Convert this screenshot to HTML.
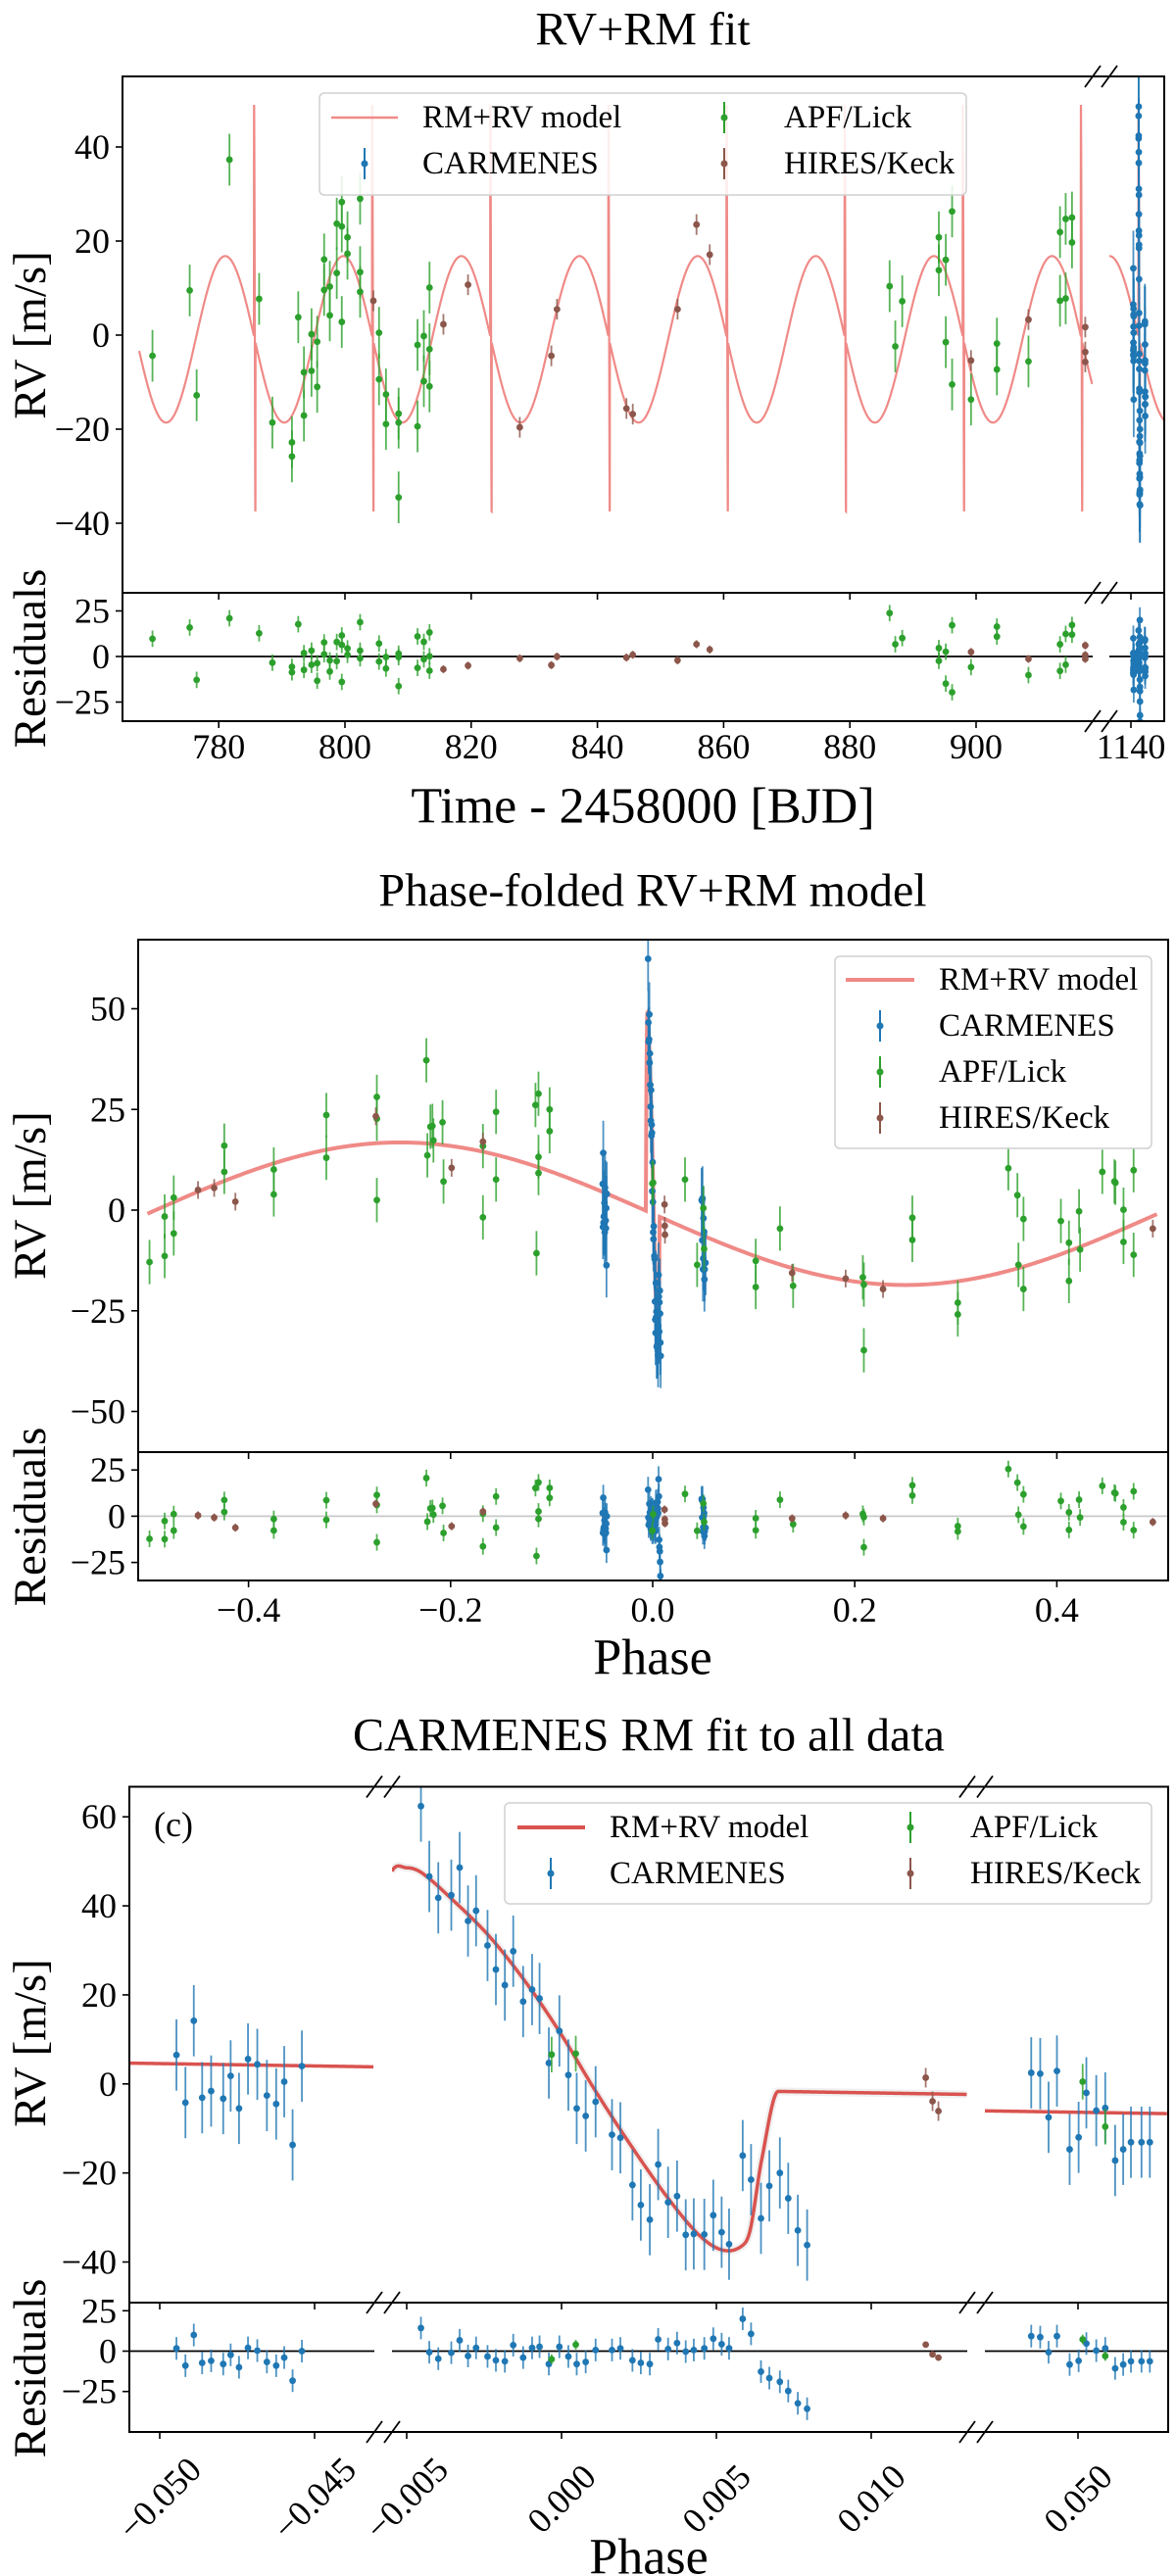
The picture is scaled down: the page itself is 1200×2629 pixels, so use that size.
<!DOCTYPE html>
<html><head><meta charset="utf-8"><title>RV+RM fit</title>
<style>
html,body{margin:0;padding:0;background:#fff;}
svg{display:block;font-family:"Liberation Serif","DejaVu Serif",serif;}
svg text{font-family:"Liberation Serif","DejaVu Serif",serif;}
</style></head>
<body>
<svg id="fig" xmlns="http://www.w3.org/2000/svg" width="1200" height="2629" viewBox="0 0 1200 2629">
<rect x="0" y="0" width="1200" height="2629" fill="#fff"/>
<defs id="defs"></defs>
<g id="p1"></g>
<g id="p2"></g>
<g id="p3"></g>

<g>
<rect x="326" y="95" width="660" height="104" rx="5" fill="#fff" fill-opacity="0.85" stroke="#d0d0d0" stroke-width="1.5"/>
<line x1="338" y1="120" x2="406" y2="120" stroke="#ef8a87" stroke-width="2.5"/>
<text x="431" y="120" font-size="33" dominant-baseline="central">RM+RV model</text>
<line x1="372" y1="151" x2="372" y2="183" stroke="#1f77b4" stroke-width="2"/>
<circle cx="372" cy="167" r="3.5" fill="#1f77b4"/>
<text x="431" y="167" font-size="33" dominant-baseline="central">CARMENES</text>
<line x1="739" y1="104" x2="739" y2="136" stroke="#2ca02c" stroke-width="2"/>
<circle cx="739" cy="120" r="3.5" fill="#2ca02c"/>
<text x="800" y="120" font-size="33" dominant-baseline="central">APF/Lick</text>
<line x1="739" y1="151" x2="739" y2="183" stroke="#8c564b" stroke-width="2"/>
<circle cx="739" cy="167" r="3.5" fill="#8c564b"/>
<text x="800" y="167" font-size="33" dominant-baseline="central">HIRES/Keck</text>
</g>

<g>
<rect x="852" y="976" width="323" height="196" rx="5" fill="#fff" fill-opacity="0.85" stroke="#d0d0d0" stroke-width="1.5"/>
<line x1="863" y1="1000" x2="933" y2="1000" stroke="#ef8a87" stroke-width="4"/>
<text x="958" y="1000" font-size="33" dominant-baseline="central">RM+RV model</text>
<line x1="898" y1="1031" x2="898" y2="1063" stroke="#1f77b4" stroke-width="2"/>
<circle cx="898" cy="1047" r="3.5" fill="#1f77b4"/>
<text x="958" y="1047" font-size="33" dominant-baseline="central">CARMENES</text>
<line x1="898" y1="1078" x2="898" y2="1110" stroke="#2ca02c" stroke-width="2"/>
<circle cx="898" cy="1094" r="3.5" fill="#2ca02c"/>
<text x="958" y="1094" font-size="33" dominant-baseline="central">APF/Lick</text>
<line x1="898" y1="1125" x2="898" y2="1157" stroke="#8c564b" stroke-width="2"/>
<circle cx="898" cy="1141" r="3.5" fill="#8c564b"/>
<text x="958" y="1141" font-size="33" dominant-baseline="central">HIRES/Keck</text>
</g>

<g>
<rect x="515" y="1840" width="660" height="103" rx="5" fill="#fff" fill-opacity="0.85" stroke="#d0d0d0" stroke-width="1.5"/>
<line x1="528" y1="1865" x2="597" y2="1865" stroke="#d9534f" stroke-width="4"/>
<text x="622" y="1865" font-size="33" dominant-baseline="central">RM+RV model</text>
<line x1="562" y1="1896" x2="562" y2="1928" stroke="#1f77b4" stroke-width="2"/>
<circle cx="562" cy="1912" r="3.5" fill="#1f77b4"/>
<text x="622" y="1912" font-size="33" dominant-baseline="central">CARMENES</text>
<line x1="929" y1="1849" x2="929" y2="1881" stroke="#2ca02c" stroke-width="2"/>
<circle cx="929" cy="1865" r="3.5" fill="#2ca02c"/>
<text x="990" y="1865" font-size="33" dominant-baseline="central">APF/Lick</text>
<line x1="929" y1="1896" x2="929" y2="1928" stroke="#8c564b" stroke-width="2"/>
<circle cx="929" cy="1912" r="3.5" fill="#8c564b"/>
<text x="990" y="1912" font-size="33" dominant-baseline="central">HIRES/Keck</text>
</g>
</svg>

<script>
// ---------- Panel 1 data (time series) ----------
const apfTime = [769.5,775.4,776.5,781.7,786.4,788.5,791.6,791.6,792.6,793.5,793.5,794.7,794.7,795.6,795.6,796.7,796.7,797.6,797.6,798.7,798.7,799.5,799.5,799.5,800.4,800.4,802.4,802.4,802.4,805.4,805.4,806.5,806.5,808.5,808.5,808.5,811.5,811.5,812.5,812.5,813.4,813.4,813.4,886.3,887.2,888.3,894.1,894.1,895.2,895.2,896.2,896.2,899.2,903.3,903.3,908.3,913.3,913.3,914.2,914.2,915.2,915.2];
const apfRV = [-4.4,9.5,-12.8,37.3,7.7,-18.6,-22.8,-25.8,3.8,-7.9,-17.1,0.2,-7.6,-1.4,-11,16.1,9.6,10.3,4.2,23.7,13.2,28.3,23.1,2.8,20.8,17.3,29,13.4,9.2,0.5,-9.4,-12.6,-18.9,-16.7,-18.6,-34.5,-2.1,-19.4,-0.2,-9.8,10.1,-3,-10.9,10.4,-2.4,7.2,20.8,13.8,16,-1.5,26.3,-10.5,-13.7,-1.8,-7.3,-5.6,21.9,7.3,24.7,7.8,25,19.7];
const hiresTime = [804.5,815.6,819.5,827.7,832.7,833.6,844.6,845.6,852.7,855.7,857.8,899.2,908.3,917.3,917.3,917.3];
const hiresRV = [7.3,2.3,10.7,-19.6,-4.4,5.5,-15.6,-16.8,5.5,23.5,17.1,-5.4,3.3,1.7,-3.6,-5.7];
const transitT0 = 785.7;
const orbitPeriod = 18.716;
const carmTransitTime = 1141.3;
const modelStartTime = 767.4;

// ---------- Model parameters ----------
const modelK = 17.7;
const modelOffset = -0.9;
const rmPhase = [-0.0069,-0.0062,-0.0055,-0.0050,-0.00451,-0.00354,-0.00232,-0.0011,0,0.0011,0.00232,0.00354,0.00451,0.00524,0.00585,0.0061,0.00646,0.0070];
const rmVal = [0,30,47.7,48.9,47.8,42.0,33.7,23.1,11.9,-0.6,-13.5,-25.3,-33,-35.9,-34.7,-31,-15.5,0];

// ---------- CARMENES (panel 3, also used in panels 1-2) ----------
const carmPhase = [-0.04946,-0.04917,-0.0489,-0.04863,-0.04834,-0.04795,-0.04771,-0.04744,-0.04715,-0.04685,-0.04654,-0.04624,-0.04598,-0.04571,-0.04541,
 -0.00454,-0.00427,-0.00398,-0.00356,-0.00329,-0.00302,-0.00276,-0.00239,-0.00212,-0.00183,-0.00156,-0.00124,-0.00095,-0.00071,-0.00041,-0.00007,0.00022,0.00049,0.00078,0.0011,0.00163,0.0019,0.00229,0.00256,0.00285,0.00312,0.00344,0.00373,0.00401,0.00427,0.00461,0.0049,0.00517,0.00541,0.00585,0.00612,0.00644,0.00671,0.00705,0.00732,0.00763,0.00793,
 0.04849,0.04878,0.04905,0.04932,0.04973,0.05002,0.05027,0.05059,0.05088,0.0512,0.05146,0.05171,0.05205,0.05232];
const carmRV = [6.5,-4.2,14.2,-3.1,-1.6,-3.3,1.8,-5.5,5.6,4.4,-2.6,-4.5,0.5,-13.7,4.0,
 62.4,46.6,41.8,42.4,48.6,36.6,38.9,31.1,25.7,22.2,29.8,18.5,21.2,19.2,4.7,11.9,2.0,-5.5,-7.2,-4.0,-11.4,-12.1,-22.7,-27.2,-30.5,-18.1,-26.6,-25.2,-33.9,-33.7,-33.8,-29.5,-33.3,-36.0,-16.1,-21.5,-30.2,-22.9,-20.0,-25.7,-32.9,-36.2,
 2.5,2.3,-7.5,2.9,-14.7,-12,-2.0,-6.0,-5.4,-17.2,-14.7,-13.1,-13.1,-13.1];
const carmRes = [1.7,-9,10,-7.3,-6,-8,-2.3,-10,2,0.3,-6.7,-9,-4,-18.3,0,
 14.3,-0.7,-4.7,-1,6.7,-3,2,-3.3,-5.7,-6.3,3.7,-4,2,2.7,-8,2.7,-3.3,-8,-6.7,0.7,0.7,1.7,-5.7,-7.3,-8,7.3,1.3,5,-0.3,0.7,1.7,7.7,4.3,1.7,20,10.7,-12.7,-16.7,-19,-24.7,-32.3,-35.7,
 9.3,8.7,-0.7,9.3,-8.3,-6,4.7,0.3,1.7,-10.7,-8.3,-6.3,-6.3,-6.3];
const p3apfPhase = [-0.00032,0.00046,0.05015,0.05088];
const p3apfRV = [6.6,6.8,0.5,-9.6];
const p3apfRes = [-5,4,7.3,-3];
const p3hiresPhase = [0.01176,0.01198,0.01217];
const p3hiresRV = [1.4,-3.9,-6.1];
const p3hiresRes = [4,-2,-4];

// ---------- Panel 2 data (phase-folded) ----------
const p2apfPhase = [-0.498,-0.483,-0.483,-0.474,-0.474,-0.424,-0.424,-0.375,-0.375,-0.323,-0.323,-0.273,-0.273,-0.273,-0.224,-0.223,-0.22,-0.218,-0.217,-0.208,-0.207,-0.168,-0.168,-0.155,-0.155,-0.116,-0.113,-0.113,-0.113,-0.115,-0.102,-0.102,0.032,0.044,0.102,0.102,0.126,0.139,0.208,0.209,0.209,0.257,0.257,0.302,0.302,0.352,0.361,0.362,0.367,0.367,0.404,0.412,0.412,0.422,0.423,0.445,0.457,0.458,0.466,0.466,0.476,0.476];
const p2apfRV = [-12.9,-1.6,-11.4,3.1,-5.8,16,9.5,10.1,3.9,23.6,13,28.1,22.7,2.5,37.2,13.6,20.7,20.9,17.3,21.8,7.1,15.9,-1.8,24.4,7.6,26.1,28.9,13.2,9.2,-10.7,25,19.6,7.6,-13.6,-12.6,-19.1,-4.6,-18.8,-16.7,-18.5,-34.8,-1.9,-7.4,-23,-25.9,10.4,3.7,-13.6,-2.2,-19.6,-2.7,-8.1,-17.6,-0.3,-9.8,9.5,7.1,6.8,0.1,-7.9,9.9,-11.1];
const p2hiresPhase = [-0.45,-0.434,-0.413,-0.274,-0.199,-0.168,0.138,0.191,0.228,0.495];
const p2hiresRV = [5,5.5,2.1,23.3,10.5,17,-15.6,-17,-19.6,-4.6];

// ---------- error sizes ----------
const errAPF = 5.5, errHIRES = 2.2, errCARM = 8, errResAPF = 4.5, errResCARM = 7;

// ---------- Tick labels ----------
const p1YTicks = [-40,-20,0,20,40];
const p1ResTicks = [-25,0,25];
const p1XTicks = [780,800,820,840,860,880,900];
const p1XTicks2 = [1140];
const p2YTicks = [-50,-25,0,25,50];
const p2ResTicks = [-25,0,25];
const p2XTicks = [-0.4,-0.2,0.0,0.2,0.4];
const p3YTicks = [-40,-20,0,20,40,60];
const p3ResTicks = [-25,0,25];
const p3XTicks1 = [-0.050,-0.045];
const p3XTicks2 = [-0.005,0.000,0.005,0.010];
const p3XTicks3 = [0.050];

// ================= helpers =================
const NS = 'http://www.w3.org/2000/svg';
const defs = document.getElementById('defs');
function mk(tag, attrs, parent, name) {
  const e = document.createElementNS(NS, tag);
  for (const k in attrs) e.setAttribute(k, attrs[k]);
  
  
  parent.appendChild(e);
  return e;
}
function txt(str, x, y, size, parent, name, anchor, rot) {
  const t = mk('text', {x: x, y: y, 'font-size': size, 'text-anchor': anchor || 'middle', 'dominant-baseline': 'central', fill: '#000', 'font-family': '"Liberation Serif", serif'}, parent, name);
  if (rot) t.setAttribute('transform', 'rotate(' + rot + ' ' + x + ' ' + y + ')');
  t.textContent = str;
  return t;
}
function lin(d0, d1, p0, p1) { return v => p0 + (v - d0) * (p1 - p0) / (d1 - d0); }
function fmtNum(v, dec) {
  const s = Math.abs(v).toFixed(dec);
  return (v < 0 && parseFloat(s) !== 0 ? '\u2212' : '') + s;
}
let clipId = 0;
function clipGroup(parent, x0, y0, x1, y1, name) {
  const id = 'clip' + (clipId++);
  const cp = mk('clipPath', {id: id}, defs, 'clip-path');
  mk('rect', {x: x0, y: y0, width: x1 - x0, height: y1 - y0}, cp, 'clip-rect');
  return mk('g', {'clip-path': 'url(#' + id + ')'}, parent, name);
}
function rm(p) {
  const n = rmPhase.length;
  if (p <= rmPhase[0] || p >= rmPhase[n - 1]) return 0;
  let i = 0;
  while (i < n - 2 && p > rmPhase[i + 1]) i++;
  const x0 = rmPhase[i], x1 = rmPhase[i + 1], y0 = rmVal[i], y1 = rmVal[i + 1];
  const h = x1 - x0, t = (p - x0) / h;
  const m0 = (i > 0) ? (rmVal[i + 1] - rmVal[i - 1]) / (rmPhase[i + 1] - rmPhase[i - 1]) : 0;
  const m1 = (i + 2 < n) ? (rmVal[i + 2] - rmVal[i]) / (rmPhase[i + 2] - rmPhase[i]) : 0;
  const t2 = t * t, t3 = t2 * t;
  return (2*t3 - 3*t2 + 1) * y0 + (t3 - 2*t2 + t) * h * m0 + (-2*t3 + 3*t2) * y1 + (t3 - t2) * h * m1;
}
function wrap(p) { return p - Math.round(p); }
function modelPhase(p) { const w = wrap(p); return modelOffset - modelK * Math.sin(2 * Math.PI * w) + rm(w); }
function modelTime(t) { return modelPhase((t - transitT0) / orbitPeriod); }

function drawPoints(g, xs, ys, xf, yf, err, color, name) {
  for (let i = 0; i < xs.length; i++) {
    const x = xf(xs[i]), y = yf(ys[i]);
    mk('line', {x1: x, x2: x, y1: yf(ys[i] - err), y2: yf(ys[i] + err), stroke: color, 'stroke-width': 1.8, 'stroke-opacity': 0.8}, g, name + '-errorbar');
    mk('circle', {cx: x, cy: y, r: 3.4, fill: color}, g, name + '-point');
  }
}
function pathFrom(samples, xf, yf) {
  let d = '';
  samples.forEach((s, i) => { d += (i ? 'L' : 'M') + xf(s[0]).toFixed(2) + ' ' + yf(s[1]).toFixed(2); });
  return d;
}
function yTicks(g, ticks, yf, xAxis, name) {
  ticks.forEach(v => {
    const y = yf(v);
    mk('line', {x1: xAxis - 7, x2: xAxis, y1: y, y2: y, stroke: '#000', 'stroke-width': 1.6}, g, name + '-tick');
    txt(fmtNum(v, 0), xAxis - 13, y, 36, g, name + '-label', 'end');
  });
}
function xTickMarks(g, x, yMainBot, yResBot, name) {
  mk('line', {x1: x, x2: x, y1: yMainBot, y2: yMainBot + 7, stroke: '#000', 'stroke-width': 1.6}, g, name + '-tick-top');
  mk('line', {x1: x, x2: x, y1: yResBot, y2: yResBot + 7, stroke: '#000', 'stroke-width': 1.6}, g, name + '-tick');
}
function breakMark(g, x, y) {
  mk('line', {x1: x - 8, y1: y + 11, x2: x + 8, y2: y - 11, stroke: '#000', 'stroke-width': 1.8}, g, 'axis-break-mark');
}
function frame(g, L, R, T, D, B) {
  mk('rect', {x: L, y: T, width: R - L, height: B - T, fill: 'none', stroke: '#000', 'stroke-width': 2}, g, 'axes-frame');
  mk('line', {x1: L, x2: R, y1: D, y2: D, stroke: '#000', 'stroke-width': 2}, g, 'panel-divider');
}

// ================= PANEL 1 =================
(function () {
  const g = document.getElementById('p1');
  const L = 125, R = 1188, T = 78, D = 605, B = 736;
  const segs = [
    {x0: 125, x1: 1115, d0: 800 + (125 - 352) / 6.44, d1: 800 + (1115 - 352) / 6.44},
    {x0: 1132, x1: 1188, d0: 1140 + (1132 - 1154) / 6.44, d1: 1140 + (1188 - 1154) / 6.44}
  ];
  const yM = lin(0, 40, 342, 150);
  const yR = lin(0, 25, 670, 623.5);
  txt('RV+RM fit', 656, 30, 48, g, 'chart-title');
  txt('RV [m/s]', 31, 342, 47, g, 'y-axis-title', 'middle', -90);
  txt('Residuals', 31, 672, 47, g, 'residuals-axis-title', 'middle', -90);
  txt('Time - 2458000 [BJD]', 656, 823, 52, g, 'x-axis-title');
  const carmTime = carmPhase.map(p => carmTransitTime + p * orbitPeriod);
  segs.forEach((s, si) => {
    const xf = lin(s.d0, s.d1, s.x0, s.x1);
    const gm = clipGroup(g, s.x0, T, s.x1, D, 'main-plot-area');
    const gr = clipGroup(g, s.x0, D, s.x1, B, 'residual-plot-area');
    const samples = [];
    let t = si === 0 ? modelStartTime : s.d0;
    while (t <= s.d1) {
      samples.push([t, modelTime(t)]);
      const ph = Math.abs(wrap((t - transitT0) / orbitPeriod)) * orbitPeriod;
      t += ph < 0.25 ? 0.0015 : 0.08;
    }
    mk('path', {d: pathFrom(samples, xf, yM), fill: 'none', stroke: '#ef8a87', 'stroke-width': 2.2}, gm, 'rm-rv-model-line');
    mk('line', {x1: s.x0, x2: s.x1, y1: yR(0), y2: yR(0), stroke: '#000', 'stroke-width': 1.8}, gr, 'residual-zero-line');
    drawPoints(gm, apfTime, apfRV, xf, yM, errAPF, '#2ca02c', 'apf');
    drawPoints(gm, hiresTime, hiresRV, xf, yM, errHIRES, '#8c564b', 'hires');
    drawPoints(gm, carmTime, carmRV, xf, yM, errCARM, '#1f77b4', 'carmenes');
    drawPoints(gr, apfTime, apfTime.map((tt, i) => apfRV[i] - modelTime(tt)), xf, yR, errResAPF, '#2ca02c', 'apf-residual');
    drawPoints(gr, hiresTime, hiresTime.map((tt, i) => hiresRV[i] - modelTime(tt)), xf, yR, errHIRES, '#8c564b', 'hires-residual');
    drawPoints(gr, carmTime, carmRes, xf, yR, errResCARM, '#1f77b4', 'carmenes-residual');
    (si === 0 ? p1XTicks : p1XTicks2).forEach(v => {
      xTickMarks(g, xf(v), D, B, 'x');
      txt(String(v), xf(v), 762, 36, g, 'x-tick-label');
    });
  });
  frame(g, L, R, T, D, B);
  yTicks(g, p1YTicks, yM, L, 'y');
  yTicks(g, p1ResTicks, yR, L, 'residual-y');
  [1115, 1132].forEach(x => { breakMark(g, x, T); breakMark(g, x, D); breakMark(g, x, B); });
})();

// ================= PANEL 2 =================
(function () {
  const g = document.getElementById('p2');
  const L = 141, R = 1192, T = 959, D = 1482, B = 1613;
  const xf = lin(0, 0.4, 666, 1078.4);
  const yM = lin(0, 50, 1235, 1029.5);
  const yR = lin(0, 25, 1547.4, 1500.2);
  txt('Phase-folded RV+RM model', 666, 909, 48, g, 'chart-title');
  txt('RV [m/s]', 31, 1220, 47, g, 'y-axis-title', 'middle', -90);
  txt('Residuals', 31, 1548, 47, g, 'residuals-axis-title', 'middle', -90);
  txt('Phase', 666, 1692, 52, g, 'x-axis-title');
  const gm = clipGroup(g, L, T, R, D, 'main-plot-area');
  const gr = clipGroup(g, L, D, R, B, 'residual-plot-area');
  const samples = [];
  let p = -0.5;
  while (p <= 0.5) { samples.push([p, modelPhase(p)]); p += Math.abs(p) < 0.009 ? 0.00005 : 0.002; }
  mk('path', {d: pathFrom(samples, xf, yM), fill: 'none', stroke: '#ef8a87', 'stroke-width': 4}, gm, 'rm-rv-model-line');
  mk('line', {x1: L, x2: R, y1: yR(0), y2: yR(0), stroke: '#c8c8c8', 'stroke-width': 1.8}, gr, 'residual-zero-line');
  const apfP = p2apfPhase.concat(p3apfPhase), apfV = p2apfRV.concat(p3apfRV);
  const hirP = p2hiresPhase.concat(p3hiresPhase), hirV = p2hiresRV.concat(p3hiresRV);
  drawPoints(gm, carmPhase, carmRV, xf, yM, errCARM, '#1f77b4', 'carmenes');
  drawPoints(gm, apfP, apfV, xf, yM, errAPF, '#2ca02c', 'apf');
  drawPoints(gm, hirP, hirV, xf, yM, errHIRES, '#8c564b', 'hires');
  drawPoints(gr, carmPhase, carmRes, xf, yR, errResCARM, '#1f77b4', 'carmenes-residual');
  drawPoints(gr, apfP, apfP.map((pp, i) => apfV[i] - modelPhase(pp)), xf, yR, errResAPF, '#2ca02c', 'apf-residual');
  drawPoints(gr, hirP, hirP.map((pp, i) => hirV[i] - modelPhase(pp)), xf, yR, errHIRES, '#8c564b', 'hires-residual');
  frame(g, L, R, T, D, B);
  yTicks(g, p2YTicks, yM, L, 'y');
  yTicks(g, p2ResTicks, yR, L, 'residual-y');
  p2XTicks.forEach(v => {
    xTickMarks(g, xf(v), D, B, 'x');
    txt(fmtNum(v, 1), xf(v), 1643, 36, g, 'x-tick-label');
  });
})();

// ================= PANEL 3 =================
(function () {
  const g = document.getElementById('p3');
  const L = 132, R = 1192, T = 1823.5, D = 2350, B = 2482;
  const segs = [
    {x0: 132, x1: 382, ticks: p3XTicks1},
    {x0: 400, x1: 987, ticks: p3XTicks2},
    {x0: 1005, x1: 1192, ticks: p3XTicks3}
  ];
  const refs = [[-0.050, 163], [0.000, 573], [0.050, 1100]];
  const yM = lin(0, 60, 2126.8, 1854.2);
  const yR = lin(0, 25, 2399.5, 2358.3);
  txt('CARMENES RM fit to all data', 662, 1771, 48, g, 'chart-title');
  txt('RV [m/s]', 31, 2085, 47, g, 'y-axis-title', 'middle', -90);
  txt('Residuals', 31, 2417, 47, g, 'residuals-axis-title', 'middle', -90);
  txt('Phase', 662, 2610, 52, g, 'x-axis-title');
  txt('(c)', 177, 1862, 36, g, 'panel-label');
  segs.forEach((s, si) => {
    const xf = v => refs[si][1] + (v - refs[si][0]) * 31600;
    const d0 = refs[si][0] + (s.x0 - refs[si][1]) / 31600, d1 = refs[si][0] + (s.x1 - refs[si][1]) / 31600;
    const gm = clipGroup(g, s.x0, T, s.x1, D, 'main-plot-area');
    const gr = clipGroup(g, s.x0, D, s.x1, B, 'residual-plot-area');
    const samples = [];
    for (let p = d0; p <= d1; p += 0.00004) samples.push([p, modelPhase(p)]);
    const dPath = pathFrom(samples, xf, yM);
    if (si === 1) mk('path', {d: dPath, fill: 'none', stroke: '#999', 'stroke-opacity': 0.15, 'stroke-width': 8}, gm, 'posterior-samples-band');
    mk('path', {d: dPath, fill: 'none', stroke: '#d9534f', 'stroke-width': 3.5}, gm, 'rm-rv-model-line');
    mk('line', {x1: s.x0, x2: s.x1, y1: yR(0), y2: yR(0), stroke: '#000', 'stroke-width': 1.8}, gr, 'residual-zero-line');
    drawPoints(gm, carmPhase, carmRV, xf, yM, errCARM, '#1f77b4', 'carmenes');
    drawPoints(gm, p3apfPhase, p3apfRV, xf, yM, 4, '#2ca02c', 'apf');
    drawPoints(gm, p3hiresPhase, p3hiresRV, xf, yM, errHIRES, '#8c564b', 'hires');
    drawPoints(gr, carmPhase, carmRes, xf, yR, errResCARM, '#1f77b4', 'carmenes-residual');
    drawPoints(gr, p3apfPhase, p3apfRes, xf, yR, 3, '#2ca02c', 'apf-residual');
    drawPoints(gr, p3hiresPhase, p3hiresRes, xf, yR, 1.5, '#8c564b', 'hires-residual');
    s.ticks.forEach(v => {
      const x = xf(v);
      xTickMarks(g, x, D, B, 'x');
      txt(fmtNum(v, 3), x, 2550, 36, g, 'x-tick-label', 'middle', -45);
    });
  });
  frame(g, L, R, T, D, B);
  yTicks(g, p3YTicks, yM, L, 'y');
  yTicks(g, p3ResTicks, yR, L, 'residual-y');
  [382, 400, 987, 1005].forEach(x => { breakMark(g, x, T); breakMark(g, x, D); breakMark(g, x, B); });
})();
</script>
</body></html>
